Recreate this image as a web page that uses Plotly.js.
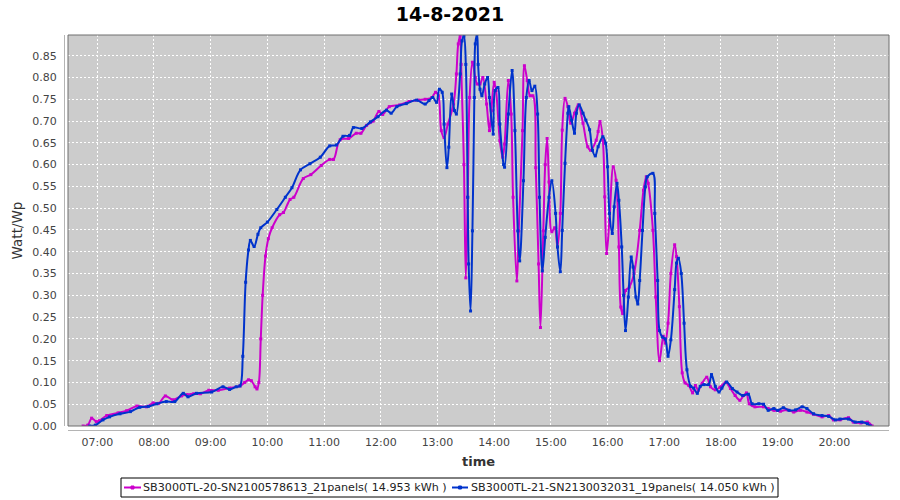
<!DOCTYPE html>
<html>
<head>
<meta charset="utf-8">
<script src="https://cdn.plot.ly/plotly-3.0.1.min.js"></script>
<style>html,body{margin:0;padding:0;background:#fff;}#chart{width:900px;height:500px;}</style>
</head>
<body>
<div id="chart"></div>
<script>
const chartDate = '2021-08-14';
const chartTitle = '14-8-2021';
const nameA = 'SB3000TL-20-SN2100578613_21panels( 14.953 kWh )';
const nameB = 'SB3000TL-21-SN2130032031_19panels( 14.050 kWh )';
const colorA = '#CC00CC';
const colorB = '#0033CC';

const timesA = ['06:45','06:50','06:54','06:59','07:02','07:10','07:22','07:31','07:42','07:52','07:59','08:05','08:12','08:20','08:29','08:35','08:42','08:49','08:58','09:08','09:20','09:31','09:36','09:40','09:43','09:47','09:49','09:51','09:53','09:55','09:58','10:01','10:05','10:13','10:17','10:24','10:28','10:38','10:46','10:57','11:06','11:10','11:17','11:26','11:34','11:39','11:45','11:52','11:58','12:02','12:09','12:20','12:30','12:40','12:47','12:54','12:58','13:01','13:04','13:07','13:11','13:17','13:20','13:22','13:24','13:25','13:28','13:30','13:32','13:34','13:37','13:40','13:42','13:45','13:48','13:52','13:55','13:57','14:00','14:02','14:06','14:09','14:11','14:15','14:18','14:20','14:24','14:26','14:30','14:32','14:35','14:38','14:41','14:44','14:47','14:49','14:52','14:54','14:56','14:58','15:01','15:04','15:07','15:10','15:12','15:15','15:18','15:21','15:25','15:29','15:34','15:39','15:42','15:48','15:50','15:52','15:55','15:57','15:59','16:02','16:06','16:09','16:12','16:14','16:16','16:19','16:23','16:28','16:34','16:38','16:41','16:43','16:48','16:51','16:55','16:59','17:01','17:04','17:07','17:11','17:13','17:16','17:19','17:22','17:26','17:30','17:33','17:36','17:40','17:45','17:49','17:54','17:59','18:05','18:10','18:15','18:20','18:24','18:27','18:30','18:36','18:45','18:50','18:56','19:03','19:10','19:17','19:24','19:31','19:38','19:47','19:54','19:59','20:06','20:15','20:20','20:28','20:35','20:40'];
const valuesA = [0.000,0.002,0.018,0.010,0.012,0.024,0.030,0.035,0.046,0.044,0.053,0.052,0.069,0.060,0.069,0.072,0.074,0.074,0.082,0.082,0.087,0.092,0.100,0.106,0.104,0.090,0.085,0.100,0.200,0.300,0.390,0.430,0.455,0.485,0.490,0.520,0.525,0.568,0.577,0.598,0.612,0.612,0.657,0.660,0.672,0.672,0.690,0.700,0.722,0.715,0.733,0.737,0.745,0.748,0.750,0.754,0.766,0.758,0.678,0.662,0.693,0.739,0.808,0.877,0.895,0.830,0.600,0.340,0.525,0.754,0.835,0.800,0.785,0.785,0.800,0.739,0.678,0.724,0.789,0.770,0.655,0.617,0.647,0.793,0.716,0.525,0.333,0.448,0.678,0.827,0.793,0.758,0.758,0.593,0.372,0.226,0.448,0.600,0.660,0.560,0.446,0.455,0.411,0.488,0.679,0.752,0.733,0.695,0.718,0.737,0.695,0.641,0.633,0.656,0.676,0.699,0.656,0.526,0.396,0.473,0.595,0.564,0.411,0.273,0.258,0.311,0.319,0.350,0.449,0.541,0.572,0.557,0.449,0.296,0.150,0.206,0.190,0.236,0.350,0.416,0.389,0.274,0.122,0.099,0.093,0.076,0.093,0.082,0.098,0.112,0.090,0.083,0.089,0.100,0.086,0.070,0.059,0.070,0.076,0.051,0.044,0.044,0.040,0.036,0.034,0.037,0.032,0.036,0.032,0.027,0.021,0.024,0.014,0.014,0.019,0.009,0.007,0.009,0.000];

const timesB = ['06:52','06:58','07:06','07:13','07:24','07:35','07:45','07:54','08:03','08:13','08:22','08:31','08:36','08:45','09:01','09:13','09:20','09:27','09:31','09:34','09:37','09:40','09:42','09:46','09:50','09:53','10:00','10:10','10:19','10:26','10:35','10:45','10:56','11:06','11:13','11:20','11:27','11:31','11:40','11:49','11:57','12:06','12:11','12:17','12:27','12:38','12:47','12:51','12:55','12:59','13:02','13:05','13:07','13:10','13:12','13:15','13:18','13:20','13:24','13:26','13:28','13:30','13:32','13:33','13:35','13:37','13:39','13:40','13:42','13:43','13:45','13:47','13:50','13:53','13:55','13:59','14:01','14:04','14:06','14:10','14:11','14:15','14:19','14:22','14:25','14:27','14:31','14:34','14:37','14:40','14:43','14:46','14:48','14:51','14:54','14:58','15:01','15:05','15:07','15:10','15:12','15:15','15:18','15:19','15:22','15:25','15:27','15:30','15:34','15:37','15:41','15:44','15:47','15:50','15:55','15:58','16:00','16:02','16:05','16:07','16:10','16:12','16:15','16:17','16:19','16:22','16:25','16:27','16:30','16:32','16:34','16:37','16:40','16:42','16:48','16:50','16:53','16:55','16:58','17:01','17:04','17:07','17:11','17:13','17:15','17:18','17:21','17:24','17:28','17:31','17:35','17:38','17:42','17:47','17:50','17:54','17:58','18:01','18:06','18:12','18:17','18:23','18:29','18:33','18:40','18:45','18:50','18:56','19:00','19:06','19:12','19:19','19:26','19:31','19:38','19:47','19:54','20:01','20:06','20:15','20:22','20:29','20:35','20:38'];
const valuesB = [0.000,0.002,0.014,0.021,0.028,0.033,0.043,0.045,0.051,0.056,0.056,0.075,0.067,0.075,0.078,0.090,0.084,0.090,0.092,0.160,0.330,0.404,0.426,0.412,0.440,0.455,0.468,0.497,0.525,0.547,0.588,0.602,0.617,0.643,0.645,0.665,0.667,0.685,0.683,0.698,0.710,0.725,0.718,0.733,0.740,0.748,0.739,0.747,0.754,0.743,0.773,0.766,0.693,0.593,0.640,0.762,0.724,0.716,0.808,0.884,0.895,0.830,0.525,0.372,0.264,0.448,0.754,0.877,0.900,0.830,0.773,0.758,0.785,0.800,0.754,0.670,0.770,0.777,0.693,0.600,0.594,0.716,0.816,0.678,0.448,0.379,0.563,0.754,0.793,0.770,0.780,0.716,0.525,0.356,0.433,0.525,0.563,0.488,0.411,0.354,0.449,0.603,0.718,0.733,0.702,0.672,0.718,0.737,0.718,0.702,0.680,0.633,0.620,0.641,0.664,0.649,0.595,0.488,0.442,0.503,0.557,0.518,0.411,0.300,0.219,0.296,0.388,0.365,0.296,0.280,0.334,0.449,0.549,0.572,0.580,0.488,0.334,0.219,0.204,0.200,0.160,0.198,0.313,0.374,0.385,0.350,0.236,0.129,0.091,0.087,0.075,0.091,0.095,0.095,0.118,0.091,0.078,0.087,0.101,0.086,0.078,0.070,0.073,0.051,0.051,0.050,0.036,0.040,0.036,0.042,0.036,0.037,0.044,0.040,0.028,0.024,0.022,0.014,0.016,0.016,0.009,0.009,0.005,0.000];

const toX = ts => ts.map(t => chartDate + ' ' + t + ':00');
const FONT = 'DejaVu Sans, sans-serif';

// plot area in pixels (for placing the hand-drawn legend box below it)
const W = 900, H = 500, ML = 68, MR = 11, MT = 35, MB = 74;
const PW = W - ML - MR, PH = H - MT - MB;
const px = x => (x - ML) / PW;
const py = y => (H - MB - y) / PH;

const traces = [
  {x: toX(timesA), y: valuesA, name: nameA, type: 'scatter', mode: 'lines+markers',
   line: {color: colorA, width: 2, shape: 'spline', smoothing: 1.0},
   marker: {color: colorA, size: 3, symbol: 'square'}},
  {x: toX(timesB), y: valuesB, name: nameB, type: 'scatter', mode: 'lines+markers',
   line: {color: colorB, width: 2, shape: 'spline', smoothing: 1.0},
   marker: {color: colorB, size: 3, symbol: 'square'}}
];

// legend layout (pixels)
const legY = 487.5;
const legendItems = [
  {name: nameA, color: colorA, x0: 124, x1: 141, tx: 142},
  {name: nameB, color: colorB, x0: 452, x1: 468, tx: 469.5}
];
const legendShapes = [
  {type: 'rect', xref: 'paper', yref: 'paper', x0: px(121), x1: px(778), y0: py(478), y1: py(497),
   line: {color: '#000000', width: 1}, fillcolor: '#FFFFFF'}
];
const legendAnn = [];
legendItems.forEach(it => {
  legendShapes.push({type: 'line', xref: 'paper', yref: 'paper', x0: px(it.x0), x1: px(it.x1),
    y0: py(legY), y1: py(legY), line: {color: it.color, width: 2}});
  const cx = (it.x0 + it.x1) / 2;
  legendShapes.push({type: 'rect', xref: 'paper', yref: 'paper', x0: px(cx - 1.5), x1: px(cx + 1.5),
    y0: py(legY - 1.5), y1: py(legY + 1.5), line: {color: it.color, width: 1}, fillcolor: it.color});
  legendAnn.push({text: it.name, xref: 'paper', yref: 'paper', x: px(it.tx), y: py(legY),
    xanchor: 'left', yanchor: 'middle', showarrow: false, borderpad: 0,
    font: {family: FONT, size: 11.15, color: '#222222'}});
});

const layout = {
  width: W, height: H,
  margin: {l: ML, r: MR, t: MT, b: MB},
  paper_bgcolor: '#FFFFFF', plot_bgcolor: '#CCCCCC',
  font: {family: FONT, color: '#444444', size: 11},
  title: {text: '<b>' + chartTitle + '</b>', font: {family: FONT, size: 19, color: '#000000'},
          xref: 'container', yref: 'container', x: 0.5, xanchor: 'center', y: 0.972, yanchor: 'middle'},
  xaxis: {type: 'date', range: [chartDate + ' 06:29:00', chartDate + ' 20:57:50'],
          tick0: chartDate + ' 07:00:00', dtick: 3600000, tickformat: '%H:%M',
          showgrid: true, gridcolor: '#FFFFFF', griddash: '2px,2px', gridwidth: 1,
          zeroline: false, showline: false, ticks: 'outside', ticklen: 6, tickcolor: 'rgba(0,0,0,0)',
          tickfont: {family: FONT, size: 11, color: '#444444'},
          title: {text: '<b>time</b>', font: {family: FONT, size: 13, color: '#333333'}, standoff: 8}},
  yaxis: {range: [0, 0.8975], dtick: 0.05, tick0: 0, tickformat: '.2f',
          showgrid: true, gridcolor: '#FFFFFF', griddash: '2px,2px', gridwidth: 1,
          zeroline: false, showline: false, ticks: 'outside', ticklen: 8, tickcolor: 'rgba(0,0,0,0)',
          tickfont: {family: FONT, size: 11, color: '#444444'},
          title: {text: 'Watt/Wp', font: {family: FONT, size: 13.5, color: '#333333'}, standoff: 6}},
  showlegend: false,
  annotations: legendAnn,
  shapes: [
    {type: 'rect', xref: 'paper', yref: 'paper', x0: 0, x1: 1, y0: 0, y1: 1,
     line: {color: '#6E6E6E', width: 1}, layer: 'above'},
    {type: 'line', xref: 'paper', yref: 'paper', x0: px(64.5), x1: px(64.5), y0: 0, y1: 1,
     line: {color: '#B4B4B4', width: 1}},
    {type: 'line', xref: 'paper', yref: 'paper', x0: 0, x1: 1, y0: py(430.5), y1: py(430.5),
     line: {color: '#B4B4B4', width: 1}}
  ].concat(legendShapes)
};

Plotly.newPlot('chart', traces, layout, {displayModeBar: false, staticPlot: true});
</script>
</body>
</html>
